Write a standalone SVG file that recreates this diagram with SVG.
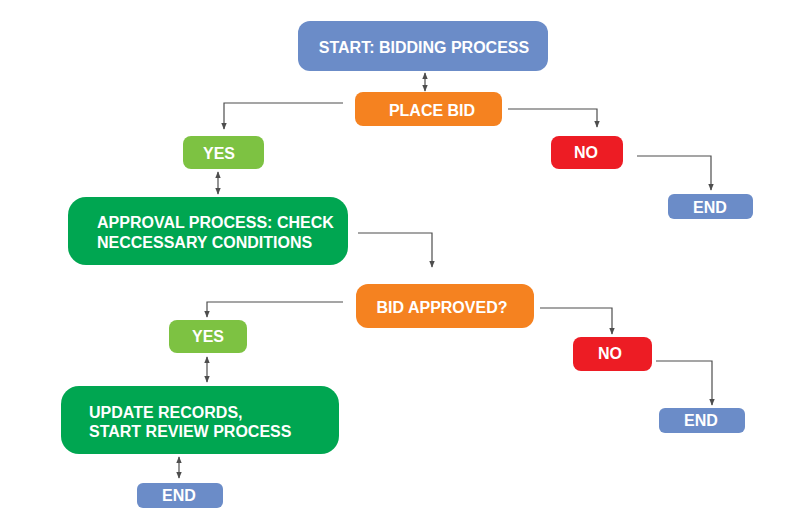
<svg xmlns="http://www.w3.org/2000/svg" width="812" height="527" viewBox="0 0 812 527">
<style>
.t{font-family:"Liberation Sans",Arial,sans-serif;font-weight:bold;font-size:16px;fill:#fff}
.c{text-anchor:middle}
.ln{fill:none;stroke:#4d4d4d;stroke-width:1.2}
.blue{fill:#6b8cc8}.orange{fill:#f58220}.lg{fill:#7dc242}.dg{fill:#00a651}.red{fill:#ed1c24}
</style>
<defs>
<marker id="ah" viewBox="0 0 10 10" refX="9" refY="5" markerWidth="7" markerHeight="7" orient="auto-start-reverse" markerUnits="userSpaceOnUse">
<path d="M0,1 L10,5 L0,9 z" fill="#4d4d4d"/>
</marker>
</defs>
<rect width="812" height="527" fill="#fff"/>
<g id="connectors">
<line class="ln" x1="425" y1="73" x2="425" y2="91" marker-start="url(#ah)" marker-end="url(#ah)"/>
<polyline class="ln" points="343,103 224,103 224,129" marker-end="url(#ah)"/>
<polyline class="ln" points="508,109 597,109 597,127" marker-end="url(#ah)"/>
<polyline class="ln" points="637,156 711,156 711,190" marker-end="url(#ah)"/>
<line class="ln" x1="218" y1="172" x2="218" y2="194" marker-start="url(#ah)" marker-end="url(#ah)"/>
<polyline class="ln" points="358,233 432,233 432,267" marker-end="url(#ah)"/>
<polyline class="ln" points="343,302 207,302 207,317" marker-end="url(#ah)"/>
<polyline class="ln" points="540,308 612,308 612,334" marker-end="url(#ah)"/>
<polyline class="ln" points="656,361 712,361 712,405" marker-end="url(#ah)"/>
<line class="ln" x1="207" y1="357" x2="207" y2="382" marker-start="url(#ah)" marker-end="url(#ah)"/>
<line class="ln" x1="179" y1="457" x2="179" y2="478" marker-start="url(#ah)" marker-end="url(#ah)"/>
</g>
<g id="start"><rect class="blue" x="298" y="21" width="250" height="50" rx="12"/><text class="t c" x="424" y="53" font-size="16.5">START: BIDDING PROCESS</text></g>
<g id="placebid"><rect class="orange" x="355" y="92" width="147" height="34" rx="8"/><text class="t c" x="432" y="116">PLACE BID</text></g>
<g id="yes1"><rect class="lg" x="183" y="136" width="81" height="33" rx="8"/><text class="t c" x="219" y="159">YES</text></g>
<g id="no1"><rect class="red" x="551" y="136" width="72" height="33" rx="8"/><text class="t c" x="586" y="158">NO</text></g>
<g id="end1"><rect class="blue" x="668" y="194" width="85" height="25" rx="6"/><text class="t c" x="710" y="213">END</text></g>
<g id="approval"><rect class="dg" x="68" y="197" width="280" height="68" rx="18"/><text class="t" x="97" y="228">APPROVAL PROCESS: CHECK</text><text class="t" x="97" y="248">NECCESSARY CONDITIONS</text></g>
<g id="bidapproved"><rect class="orange" x="356" y="284" width="178" height="44" rx="12"/><text class="t c" x="442" y="313">BID APPROVED?</text></g>
<g id="yes2"><rect class="lg" x="169" y="320" width="78" height="33" rx="8"/><text class="t c" x="208" y="342">YES</text></g>
<g id="no2"><rect class="red" x="573" y="337" width="79" height="34" rx="8"/><text class="t c" x="610" y="359">NO</text></g>
<g id="end2"><rect class="blue" x="659" y="408" width="86" height="25" rx="6"/><text class="t c" x="701" y="426">END</text></g>
<g id="update"><rect class="dg" x="61" y="386" width="278" height="68" rx="18"/><text class="t" x="89" y="418">UPDATE RECORDS,</text><text class="t" x="89" y="437">START REVIEW PROCESS</text></g>
<g id="end3"><rect class="blue" x="137" y="483" width="86" height="25" rx="6"/><text class="t c" x="179" y="501">END</text></g>
</svg>
